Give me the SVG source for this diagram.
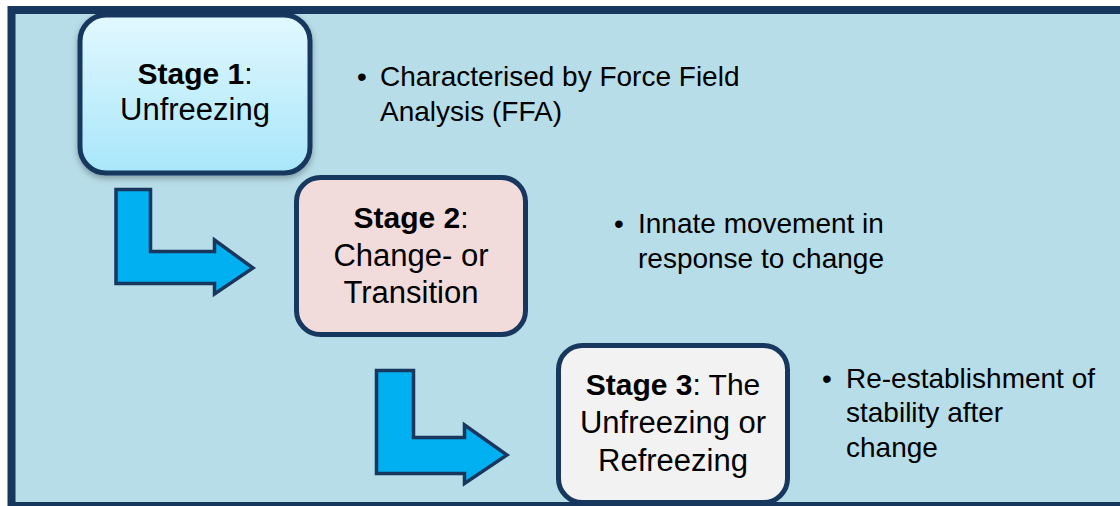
<svg xmlns="http://www.w3.org/2000/svg" width="1120" height="506" viewBox="0 0 1120 506">
<style>
.box{stroke:#17375e;stroke-width:5}
.arrow{fill:#00b0f0;stroke:#17375e;stroke-width:3.5;stroke-linejoin:miter}
.t{font-family:"Liberation Sans",Arial,sans-serif;font-size:31px;fill:#000;text-anchor:middle}
.s{font-size:30px}
.b{font-family:"Liberation Sans",Arial,sans-serif;font-size:28px;fill:#000}
.bold{font-weight:bold}
</style>
<defs>
<linearGradient id="g1" x1="0" y1="0" x2="0" y2="1">
<stop offset="0" stop-color="#e2f8fe"/>
<stop offset="1" stop-color="#a8e6fa"/>
</linearGradient>
<filter id="sh" x="-10%" y="-10%" width="120%" height="130%">
<feDropShadow dx="0" dy="3" stdDeviation="3" flood-color="#000" flood-opacity="0.3"/>
</filter>
</defs>
<rect x="0" y="0" width="1120" height="506" fill="#ffffff"/>
<rect x="11.5" y="10" width="1200" height="496" fill="#b7dde8" stroke="#17375e" stroke-width="8"/>
<g id="connectors">
<path class="arrow" d="M116,189.5 H150.5 V251.5 H214.5 V240 L253,268 L214.5,294 V283.5 H116 Z"/>
<path class="arrow" d="M376.5,370.5 H413.5 V437.5 H464.5 V425 L507,455 L464.5,483.5 V473.5 H376.5 Z"/>
</g>
<g id="stage1">
<rect class="box" x="80" y="15" width="230" height="158" rx="26" fill="url(#g1)" filter="url(#sh)"/>
<text class="t s" x="195" y="84"><tspan class="bold">Stage 1</tspan>:</text>
<text class="t" x="195" y="120">Unfreezing</text>
</g>
<g id="stage2">
<rect class="box" x="296.5" y="177.5" width="229" height="157" rx="24" fill="#f2dcdb"/>
<text class="t s" x="411" y="228"><tspan class="bold">Stage 2</tspan>:</text>
<text class="t" x="411" y="266">Change- or</text>
<text class="t" x="411" y="303">Transition</text>
</g>
<g id="stage3">
<rect class="box" x="558.5" y="345.5" width="229" height="157" rx="24" fill="#f2f2f2"/>
<text class="t s" x="673" y="395"><tspan class="bold">Stage 3</tspan>: The</text>
<text class="t" x="673" y="433">Unfreezing or</text>
<text class="t" x="673" y="471">Refreezing</text>
</g>
<g id="note1">
<text class="b" x="357" y="86">•</text>
<text class="b" x="380" y="86">Characterised by Force Field</text>
<text class="b" x="380" y="121">Analysis (FFA)</text>
</g>
<g id="note2">
<text class="b" x="614" y="233">•</text>
<text class="b" x="638" y="233">Innate movement in</text>
<text class="b" x="638" y="268">response to change</text>
</g>
<g id="note3">
<text class="b" x="822" y="388">•</text>
<text class="b" x="846" y="388">Re-establishment of</text>
<text class="b" x="846" y="422">stability after</text>
<text class="b" x="846" y="457">change</text>
</g>
</svg>
